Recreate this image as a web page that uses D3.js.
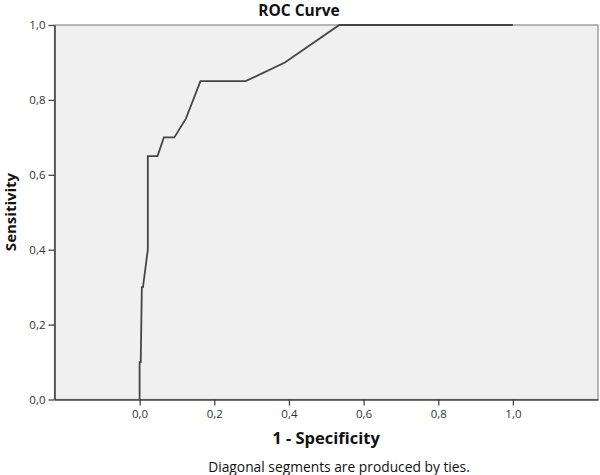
<!DOCTYPE html>
<html>
<head>
<meta charset="utf-8">
<script src="https://cdn.jsdelivr.net/npm/d3@7"></script>
<style>
  body { margin: 0; background: #fff; }
  svg { display: block; font-family: "Open Sans", sans-serif; }
</style>
</head>
<body>
<div class="graph"></div>
<script>
// ROC curve points (1 - specificity, sensitivity)
var fpr = [0, 0, 0.003, 0.006, 0.009, 0.022, 0.022, 0.048, 0.065, 0.093, 0.124, 0.163, 0.284, 0.389, 0.535, 1.0];
var tpr = [0, 0.1, 0.1, 0.3, 0.3, 0.4, 0.65, 0.65, 0.70, 0.70, 0.75, 0.85, 0.85, 0.90, 1.0, 1.0];
var xTicks = [0, 0.2, 0.4, 0.6, 0.8, 1.0];
var yTicks = [0, 0.2, 0.4, 0.6, 0.8, 1.0];

var plotLeft = 54.5, plotRight = 598, plotTop = 25, plotBottom = 399.5;

var svg = d3.select(".graph").append("svg")
    .attr("width", 600)
    .attr("height", 475);

var x = d3.scaleLinear().domain([-0.228, 1.228]).range([plotLeft, plotRight]);
var y = d3.scaleLinear().domain([0, 1]).range([plotBottom, plotTop]);

var comma = function (d) { return d3.format(".1f")(d).replace(".", ","); };

// plot background + frame
svg.append("rect")
    .attr("x", plotLeft)
    .attr("y", plotTop)
    .attr("width", plotRight - plotLeft)
    .attr("height", plotBottom - plotTop)
    .attr("fill", "#f0f0f0")
    .attr("stroke", "#8a8a8a")
    .attr("stroke-width", 1.2);

var points = fpr.map(function (d, i) { return [d, tpr[i]]; });

svg.append("path")
    .datum(points)
    .attr("fill", "none")
    .attr("stroke", "#454545")
    .attr("stroke-width", 1.8)
    .attr("stroke-linejoin", "miter")
    .attr("d", d3.line()
        .x(function (d) { return x(d[0]); })
        .y(function (d) { return y(d[1]); }));

var yAxis = svg.append("g")
    .attr("transform", "translate(" + plotLeft + ",0)")
    .call(d3.axisLeft(y).tickValues(yTicks).tickFormat(comma).tickSize(6).tickPadding(3).tickSizeOuter(0));

var xAxis = svg.append("g")
    .attr("transform", "translate(0," + plotBottom + ")")
    .call(d3.axisBottom(x).tickValues(xTicks).tickFormat(comma).tickSize(6).tickPadding(4).tickSizeOuter(0));

[yAxis, xAxis].forEach(function (g) {
    g.select(".domain").attr("stroke", "#444").attr("stroke-width", 1.6);
    g.selectAll(".tick line").attr("stroke", "#444").attr("stroke-width", 1.3);
    g.selectAll(".tick text")
        .attr("fill", "#333")
        .style("font-family", "Open Sans")
        .attr("font-size", "11.5px");
});

svg.append("text")
    .attr("x", 299)
    .attr("y", 16)
    .attr("text-anchor", "middle")
    .attr("font-size", "15.5px")
    .attr("font-weight", "bold")
    .attr("fill", "#111")
    .text("ROC Curve");

svg.append("text")
    .attr("x", 326)
    .attr("y", 443.5)
    .attr("text-anchor", "middle")
    .attr("font-size", "16.5px")
    .attr("font-weight", "bold")
    .attr("fill", "#111")
    .text("1 - Specificity");

svg.append("text")
    .attr("transform", "translate(16,212) rotate(-90)")
    .attr("text-anchor", "middle")
    .attr("font-size", "15px")
    .attr("font-weight", "bold")
    .attr("fill", "#111")
    .text("Sensitivity");

svg.append("text")
    .attr("x", 339)
    .attr("y", 471.5)
    .attr("text-anchor", "middle")
    .attr("font-size", "13.8px")
    .attr("fill", "#111")
    .text("Diagonal segments are produced by ties.");
</script>
</body>
</html>
